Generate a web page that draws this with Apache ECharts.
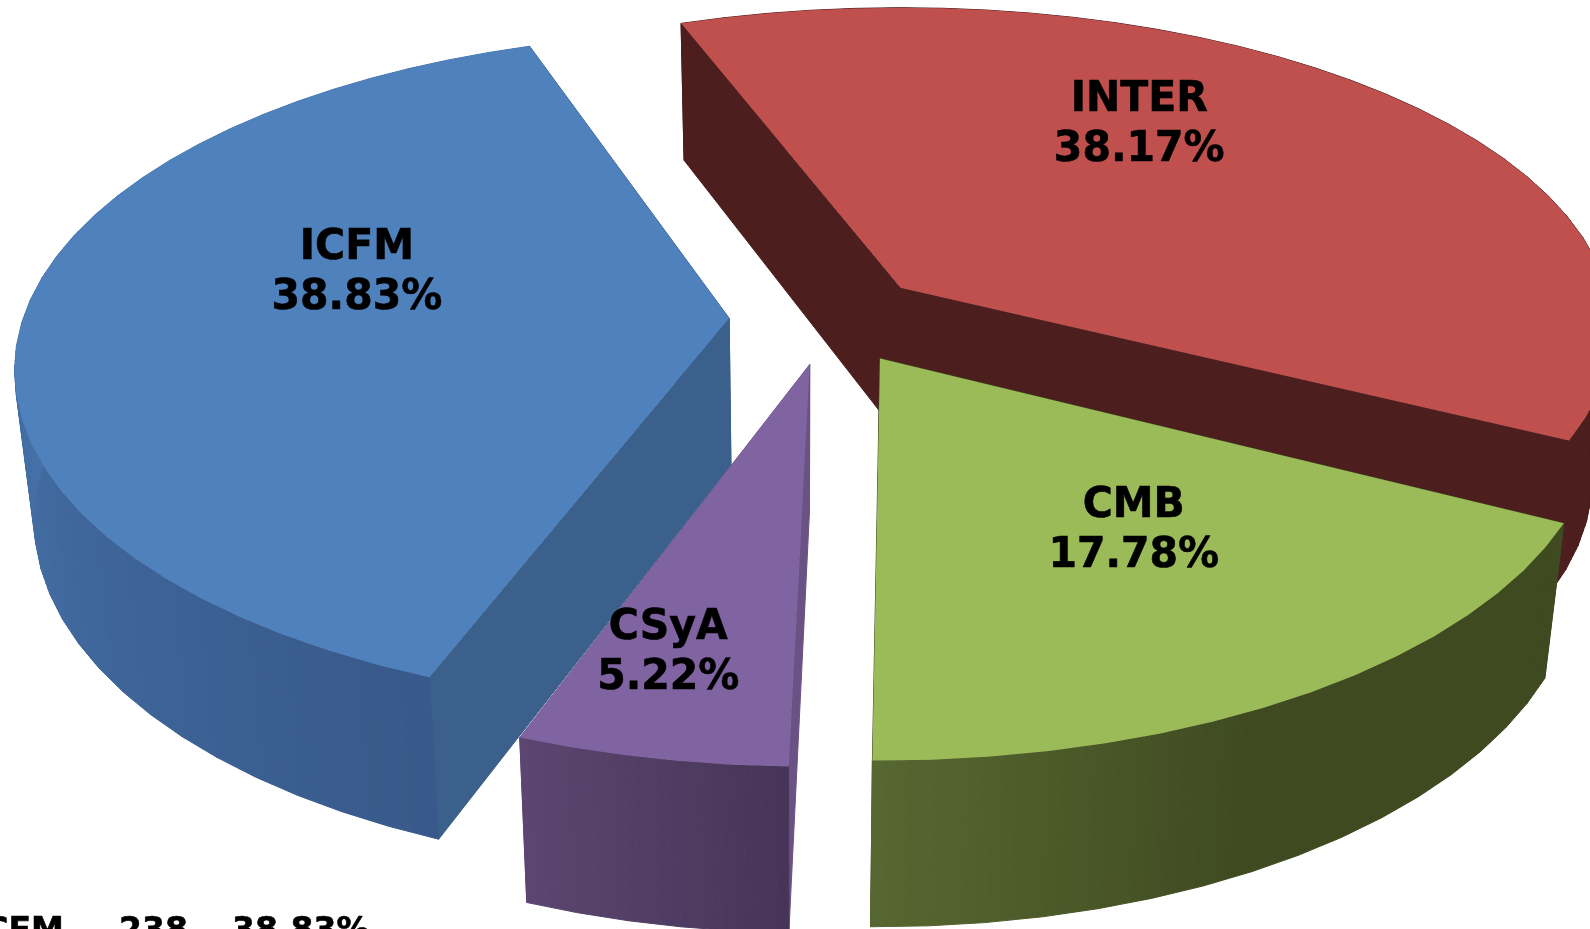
<!DOCTYPE html>
<html>
<head>
<meta charset="utf-8">
<title>Pie 3D</title>
<script src="https://cdn.jsdelivr.net/npm/echarts@6/dist/echarts.min.js"></script>
<style>
  html, body { margin: 0; padding: 0; background: #fff; overflow: hidden; }
  #chart { width: 1590px; height: 929px; }
</style>
</head>
<body>
<div id="chart"></div>
<script>
// values, clockwise from the ICFM slice
const categories = ['ICFM', 'INTER', 'CMB', 'CSyA']
const percents = [38.83, 38.17, 17.78, 5.22]
const tableRow = ['ICFM', '238', '38.83%']

// back to front
const drawOrder = [1, 0, 2, 3]

const FONT = '"DejaVu Sans", sans-serif'

// view of the tilted pie
const view = {
  cx: 828, cy: 318, radius: 706, tilt: 0.467, explode: 0.14,
  startDeg: 199.8, depth: 147, depthPow: 0.62, vanishX: 801, shrink: 0.025
}

// each slice has its own small correction: persp, tiltScale, trim of its two edges in degrees
const looks = [
  { top: '#4f81bd', edge: '#3b608c', wall: ['#38598a', '#4775ad'], span: [0, 0.55], persp: 0.155, tiltScale: 1, trim: [1.5, 1.5], labelR: 0.557, labelShift: 15 },
  { top: '#c0504d', edge: '#4c1f1e', wall: ['#4c1f1e', '#4c1f1e'], span: [0, 1], persp: 0.13, tiltScale: 0.96, trim: [0, 0], labelR: 0.66, labelShift: -15 },
  { top: '#9bbb59', edge: '#3f4a20', wall: ['#3f4a20', '#576731'], span: [0.58, 1], persp: 0.18, tiltScale: 1, trim: [0.3, -0.5], labelR: 0.58, labelShift: -3.5 },
  { top: '#8064a2', edge: '#6a5285', wall: ['#463556', '#5c4672'], span: [0, 1], persp: 0.18, tiltScale: 1, trim: [0.4, 0.15], labelR: 0.775, labelShift: 2.5 }
]

const rad = d => d * Math.PI / 180

// pie plane (x right, y towards the viewer, radius = 1) to screen
function project(x, y, persp, tilt) {
  const s = 1 / (1 - persp * y)
  return { x: view.radius * x * s, y: view.radius * tilt * y * s, s }
}

function drop(p) {
  return [
    p.x + (view.vanishX - p.x) * view.shrink,
    p.y + view.depth * Math.pow(p.s, view.depthPow)
  ]
}

function mixColor(a, b, t) {
  const pa = parseInt(a.slice(1), 16)
  const pb = parseInt(b.slice(1), 16)
  const ch = sh => Math.round(((pa >> sh) & 255) * (1 - t) + ((pb >> sh) & 255) * t)
  return `rgb(${ch(16)},${ch(8)},${ch(0)})`
}

function poly(points, color, stroke) {
  return {
    type: 'polygon',
    shape: { points },
    style: { fill: color, stroke: stroke ? color : null, lineWidth: stroke ? 1 : 0 }
  }
}

const starts = []
percents.reduce((acc, v, i) => { starts[i] = acc; return acc + v }, 0)

function renderSlice(params, api) {
  const i = api.value(0)
  const look = looks[i]
  const rawSweep = api.value(1) * 3.6
  const rawStart = view.startDeg + starts[i] * 3.6
  const mid = rawStart + rawSweep / 2
  const a0 = rawStart + look.trim[0]
  const sweep = rawSweep + look.trim[1] - look.trim[0]
  const tilt = view.tilt * look.tiltScale

  // the slice is pulled out as a whole, then drawn round its own tip
  const tip = project(view.explode * Math.sin(rad(mid)), -view.explode * Math.cos(rad(mid)), 0.18, view.tilt)
  const apex = { x: view.cx + tip.x, y: view.cy + tip.y, s: 1 }
  const at = (deg, r) => {
    const p = project(r * Math.sin(rad(deg)), -r * Math.cos(rad(deg)), look.persp, tilt)
    return { x: apex.x + p.x, y: apex.y + p.y, s: p.s }
  }

  const steps = Math.max(4, Math.round(sweep / 4))
  const rim = []
  for (let k = 0; k <= steps; k++) rim.push(at(a0 + sweep * k / steps, 1))

  const children = []

  // cut walls
  const cut = p => poly([[apex.x, apex.y], [p.x, p.y], drop(p), drop(apex)], look.edge, true)
  children.push(cut(rim[0]))
  children.push(cut(rim[steps]))

  // rim wall: straight facets, each shaded in thin strips
  const sub = 5
  const lerp = (p, q, f) => ({ x: p.x + (q.x - p.x) * f, y: p.y + (q.y - p.y) * f, s: p.s + (q.s - p.s) * f })
  for (let k = 0; k < steps; k++) {
    for (let j = 0; j < sub; j++) {
      const p = lerp(rim[k], rim[k + 1], j / sub)
      const q = lerp(rim[k], rim[k + 1], (j + 1) / sub)
      const u = (k + (j + 0.5) / sub) / steps
      const t = Math.min(1, Math.max(0, (u - look.span[0]) / (look.span[1] - look.span[0])))
      const c = mixColor(look.wall[0], look.wall[1], t)
      children.push(poly([[p.x, p.y], [q.x, q.y], drop(q), drop(p)], c, true))
    }
  }

  // top face
  children.push(poly([[apex.x, apex.y]].concat(rim.map(p => [p.x, p.y])), look.top))

  const lp = at(mid + look.labelShift, look.labelR)
  children.push({
    type: 'text',
    x: lp.x,
    y: lp.y,
    scaleY: 1.06,
    style: {
      text: categories[i] + '\n' + percents[i].toFixed(2) + '%',
      font: `bold 41px ${FONT}`,
      fill: '#000',
      stroke: '#000',
      lineWidth: 0.6,
      align: 'center',
      verticalAlign: 'middle',
      lineHeight: 47
    }
  })

  return { type: 'group', children }
}

const chart = echarts.init(document.getElementById('chart'))
chart.setOption({
  animation: false,
  backgroundColor: '#fff',
  series: [{
    type: 'custom',
    coordinateSystem: 'none',
    clip: false,
    renderItem: renderSlice,
    data: drawOrder.map(i => [i, percents[i]])
  }],
  graphic: [-28, 119, 232].map((x, k) => ({
    type: 'text',
    x,
    y: 932,
    style: {
      text: tableRow[k],
      font: `bold 33px ${FONT}`,
      fill: '#000',
      stroke: '#000',
      lineWidth: 0.6,
      verticalAlign: 'middle'
    }
  }))
})

window.addEventListener('resize', () => chart.resize())
</script>
</body>
</html>
